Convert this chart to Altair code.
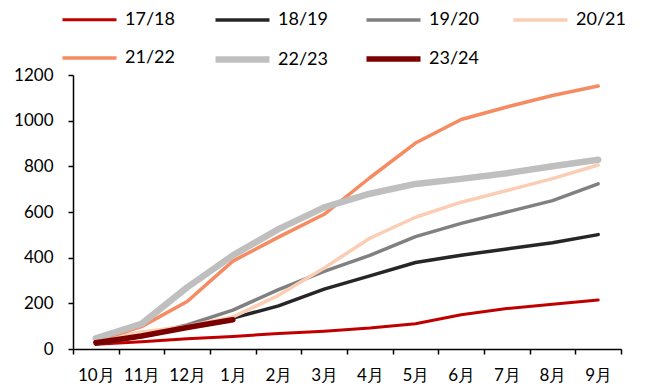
import altair as alt
import pandas as pd

months = ["10月", "11月", "12月", "1月", "2月", "3月", "4月", "5月", "6月", "7月", "8月", "9月"]
series = ["17/18", "18/19", "19/20", "20/21", "21/22", "22/23", "23/24"]
colors = ["#C00000", "#262626", "#808080", "#FBCDB4", "#F68A60", "#BFBFBF", "#7B0000"]
widths = [3, 3.5, 3.5, 3.5, 3.5, 6.5, 5.5]

v1718 = [21, 32, 45, 55, 68, 78, 92, 111, 150, 177, 196, 215]
v1819 = [22, 55, 95, 135, 189, 262, 320, 379, 411, 438, 465, 501]
v1920 = [25, 60, 105, 170, 260, 340, 410, 492, 550, 600, 650, 723]
v2021 = [40, 75, 100, 140, 235, 355, 485, 577, 643, 694, 746, 806]
v2122 = [35, 98, 208, 385, 490, 590, 750, 902, 1005, 1060, 1110, 1152]
v2223 = [47, 110, 270, 410, 525, 620, 680, 723, 745, 770, 800, 829]
v2324 = [28, 57, 94, 128]

all_vals = [v1718, v1819, v1920, v2021, v2122, v2223, v2324]
rows = []
for s, vals in zip(series, all_vals):
    for i, v in enumerate(vals):
        rows.append({"month": months[i], "series": s, "value": v, "order": series.index(s)})
df = pd.DataFrame(rows)

font = "Lato"

chart = alt.Chart(df).mark_line(strokeCap="round", strokeJoin="round").encode(
    x=alt.X("month:N", sort=months, bandPosition=0.5,
            scale=alt.Scale(type="band", domain=months, paddingInner=0, paddingOuter=0),
            axis=alt.Axis(title=None, tickBand="extent", labelAngle=0, labelPadding=13)),
    y=alt.Y("value:Q", scale=alt.Scale(domain=[0, 1200], nice=False),
            axis=alt.Axis(title=None, values=[0, 200, 400, 600, 800, 1000, 1200],
                          format="d", labelPadding=15)),
    color=alt.Color("series:O", scale=alt.Scale(type="ordinal", domain=series, range=colors),
                    legend=alt.Legend(orient="none", legendX=-14, legendY=-84, columns=4,
                                      direction="horizontal", title=None,
                                      symbolType="stroke", symbolSize=2916,
                                      labelFontSize=18, labelFont=font, labelColor="black",
                                      columnPadding=27, rowPadding=-50, labelOffset=5)),
    strokeWidth=alt.StrokeWidth("series:O", scale=alt.Scale(type="ordinal", domain=series, range=widths)),
    order=alt.Order("order:Q"),
    detail="series:N",
).properties(
    width=548, height=274,
    padding={"left": 65, "top": 67, "right": 17, "bottom": 35},
    autosize=alt.AutoSizeParams(type="none"),
).configure_view(stroke=None).configure_axis(
    grid=False, domainColor="black", domainWidth=1.5, tickColor="black", tickWidth=1.5,
    tickSize=5, labelFontSize=17, labelFont=font, labelColor="black"
)

chart.save("out.html", embed_options={"renderer": "svg", "actions": False})
